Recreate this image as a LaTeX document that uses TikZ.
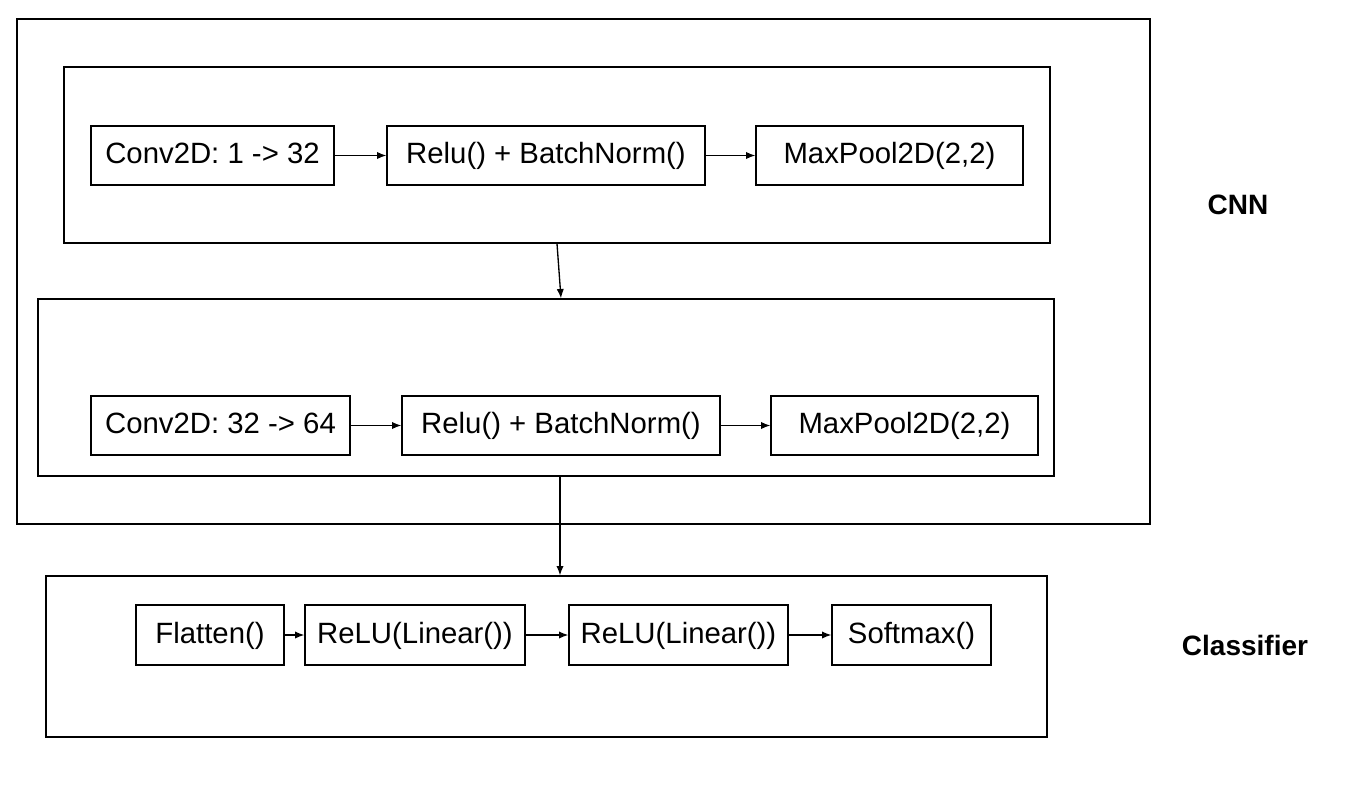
\documentclass[tikz,border=0pt]{standalone}
\usepackage{fontspec}
\setmainfont{Liberation Sans}
\usetikzlibrary{arrows.meta}

\tikzset{
    layer/.style 2 args={draw, line width=1pt, minimum width=#1*0.75pt, minimum height=#2*0.75pt,
        inner sep=0pt, text height=16pt, text depth=4pt, font=\fontsize{22}{26}\selectfont},
    group/.style 2 args={draw, line width=1pt, minimum width=#1*0.75pt, minimum height=#2*0.75pt},
    flow/.style={-{Latex[length=7pt,width=5.5pt]}, line width=1pt},
    tag/.style={font=\fontsize{21}{25}\selectfont\bfseries}
}

\begin{document}
\begin{tikzpicture}[x=0.75pt, y=-0.75pt]

        % page size of the reference
        \useasboundingbox (0, 0) rectangle (1360, 796);

        % containers
        \node[group={1133}{505}] (cnn) at (583.5, 271.5) {};
        \node[group={986}{176}] (blk1) at (557, 155) {};
        \node[group={1016}{177}] (blk2) at (546, 387.5) {};
        \node[group={1001}{161}] (cls) at (546.5, 656.5) {};

        % first conv block
        \node[layer={243}{59}] (conv1) at (212.5, 155.5) {Conv2D: 1 -> 32};
        \node[layer={318}{59}] (relu1) at (546, 155.5) {Relu() + BatchNorm()};
        \node[layer={267}{59}] (pool1) at (889.5, 155.5) {MaxPool2D(2,2)};

        % second conv block
        \node[layer={259}{59}] (conv2) at (220.5, 425.5) {Conv2D: 32 -> 64};
        \node[layer={318}{59}] (relu2) at (561, 425.5) {Relu() + BatchNorm()};
        \node[layer={267}{59}] (pool2) at (904.5, 425.5) {MaxPool2D(2,2)};

        % classifier
        \node[layer={148}{60}] (flat) at (210, 635) {Flatten()};
        \node[layer={220}{60}] (lin1) at (415, 635) {ReLU(Linear())};
        \node[layer={219}{60}] (lin2) at (678.5, 635) {ReLU(Linear())};
        \node[layer={159}{60}] (soft) at (911.5, 635) {Softmax()};

        % side labels
        \node[tag] (cnnlbl) at (1238, 205) {CNN};
        \node[tag] (clslbl) at (1245, 645) {Classifier};

        \draw[flow] (conv1) -- (relu1);
        \draw[flow] (relu1) -- (pool1);
        \draw[flow] (conv2) -- (relu2);
        \draw[flow] (relu2) -- (pool2);
        \draw[flow] (flat) -- (lin1);
        \draw[flow] (lin1) -- (lin2);
        \draw[flow] (lin2) -- (soft);

        \draw[flow] (blk1.south) -- ([xshift=15*0.75pt]blk2.north);
        \draw[flow] ([xshift=14*0.75pt]blk2.south) -- ([xshift=14*0.75pt]blk2.south |- cls.north);

    \end{tikzpicture}
\end{document}
